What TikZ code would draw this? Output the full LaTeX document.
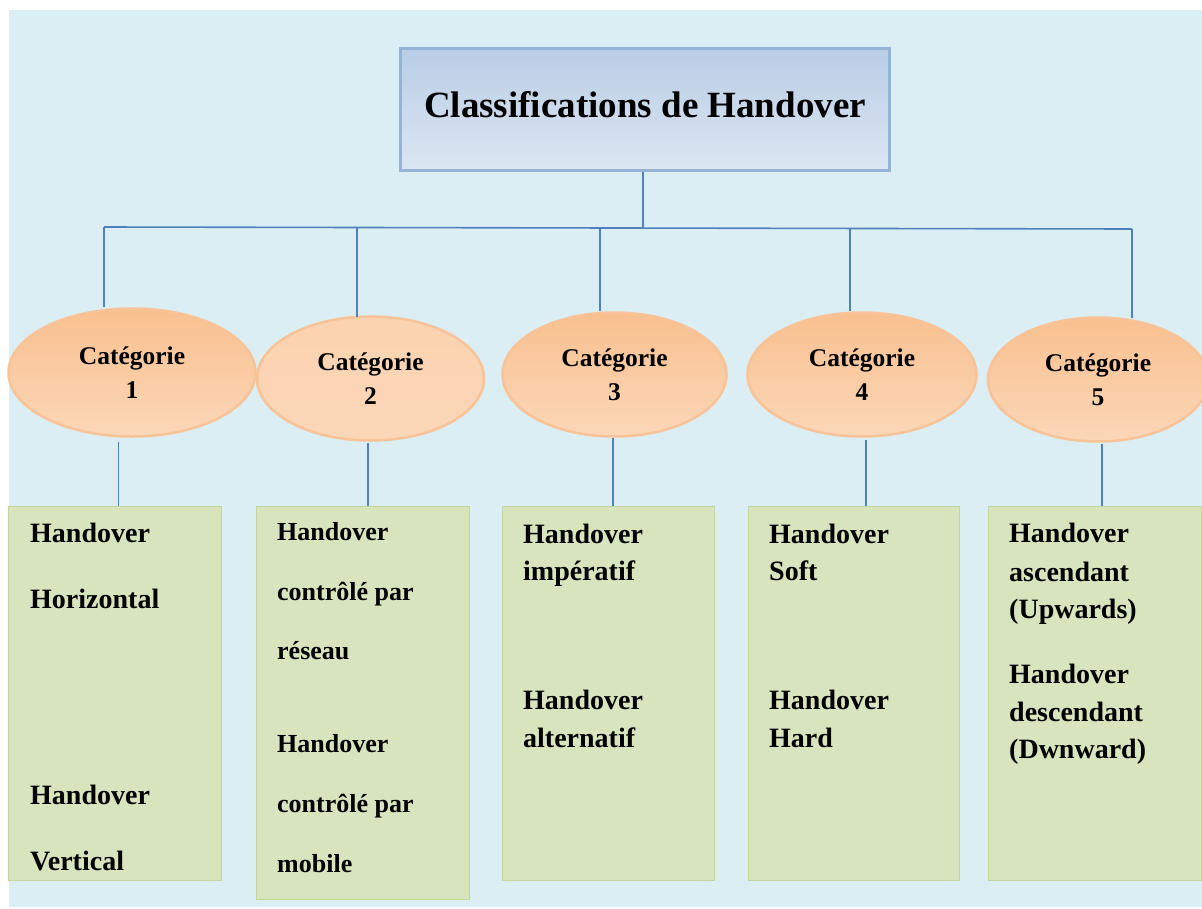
\documentclass[tikz,border=0pt]{standalone}
\usepackage{fontspec}
\setmainfont{Liberation Serif}
\usetikzlibrary{shapes.geometric,calc}
\definecolor{bgblue}{HTML}{DAEEF3}
\definecolor{linkblue}{HTML}{4F81BD}
\definecolor{boxedge}{HTML}{95B3D7}
\definecolor{boxtop}{HTML}{B9CDE5}
\definecolor{boxbot}{HTML}{DCE6F2}
\definecolor{ovtop}{HTML}{F9C08F}
\definecolor{ovmid}{HTML}{F8BD8B}
\definecolor{ovbot}{HTML}{FBD7B8}
\definecolor{ovedge}{HTML}{F9C297}
\definecolor{recfill}{HTML}{D7E4BD}
\definecolor{recedge}{HTML}{C3D69B}
\tikzset{
  conn/.style={draw=linkblue, line width=1.6pt},
  topbox/.style={draw=boxedge, line width=3pt, top color=boxtop, bottom color=boxbot,
    inner sep=0pt, text depth=10pt, font=\fontsize{37}{37}\selectfont\bfseries},
  cat/.style={ellipse, draw=ovedge, line width=2.5pt, top color=ovtop, bottom color=ovbot,
    inner sep=0pt, align=center, font=\fontsize{25.5}{34}\selectfont\bfseries},
  catband/.style={ellipse, draw=ovedge, line width=2.5pt, top color=ovbot!80!ovtop, middle color=ovmid, bottom color=ovbot,
    inner sep=0pt, align=center, font=\fontsize{25.5}{34}\selectfont\bfseries},
  rec/.style={draw=recedge, line width=1pt, fill=recfill, anchor=north west, inner sep=0pt},
  txt/.style={anchor=base west, inner sep=0pt, font=\fontsize{28}{28}\selectfont\bfseries},
  txts/.style={anchor=base west, inner sep=0pt, font=\fontsize{26}{26}\selectfont\bfseries},
}
\begin{document}
\begin{tikzpicture}[x=1pt,y=-1pt]
\useasboundingbox (0,0) rectangle (1202,908);
\fill[white] (0,0) rectangle (1202,908);
\fill[bgblue] (9,10) rectangle (1202,907);

% top box
\node[topbox, minimum width=489pt, minimum height=122pt] (top) at (645,109.5) {Classifications de Handover};

% categories
\node[cat, minimum width=247pt, minimum height=128pt] (e1) at (132,372.5) {Catégorie\\1};
\node[catband, minimum width=227pt, minimum height=124pt] (e2) at (370.5,378.5) {Catégorie\\2};
\node[cat, minimum width=224pt, minimum height=124pt] (e3) at (614.5,374.5) {Catégorie\\3};
\node[cat, minimum width=229pt, minimum height=124pt] (e4) at (862,374.5) {Catégorie\\4};
\node[cat, minimum width=220pt, minimum height=124pt] (e5) at (1098,379.5) {Catégorie\\5};

% boxes
\node[rec, minimum width=213pt, minimum height=374pt] (r1) at (8,506) {};
\node[rec, minimum width=213pt, minimum height=393pt] (r2) at (256,506) {};
\node[rec, minimum width=212pt, minimum height=374pt] (r3) at (502,506) {};
\node[rec, minimum width=211pt, minimum height=374pt] (r4) at (748,506) {};
\node[rec, minimum width=213pt, minimum height=374pt] (r5) at (988,506) {};

% connectors
\coordinate (bT) at (643,228);
\coordinate (bL) at (104,227);
\coordinate (b2) at (357,227.5);
\coordinate (b3) at (600,228);
\coordinate (b4) at (850,228.5);
\coordinate (bR) at (1132,229);
\draw[conn] (top.south -| bT) -- (bT);
\draw[conn] (bL) -- (bR);
\draw[conn] (bL) -- (bL |- e1.north);
\draw[conn] (b2) -- ([yshift=-2pt]b2 |- e2.north);
\draw[conn] (b3) -- (b3 |- e3.north);
\draw[conn] (b4) -- (b4 |- e4.north);
\draw[conn] (bR) -- ([yshift=-2pt]bR |- e5.north);
\draw[conn] ([xshift=-13.5pt,yshift=-4pt]e1.south) -- ([xshift=-13.5pt]e1.south |- r1.north);
\draw[conn] ([xshift=-2.5pt,yshift=-1pt]e2.south) -- ([xshift=-2.5pt]e2.south |- r2.north);
\draw[conn] ([xshift=-1.5pt]e3.south) -- ([xshift=-1.5pt]e3.south |- r3.north);
\draw[conn] ([xshift=4pt,yshift=-2pt]e4.south) -- ([xshift=4pt]e4.south |- r4.north);
\draw[conn] ([xshift=4pt,yshift=-1pt]e5.south) -- ([xshift=4pt]e5.south |- r5.north);

% texts box 1
\node[txt] (t1a) at (30,542) {Handover};
\node[txt] (t1b) at (30,608) {Horizontal};
\node[txt] (t1c) at (30,804) {Handover};
\node[txt] (t1d) at (30,870) {Vertical};
% box 2
\node[txts] (t2a) at (277,540) {Handover};
\node[txts] (t2b) at (277,600) {contrôlé par};
\node[txts] (t2c) at (277,659) {réseau};
\node[txts] (t2d) at (277,752) {Handover};
\node[txts] (t2e) at (277,812) {contrôlé par};
\node[txts] (t2f) at (277,872) {mobile};
% box 3
\node[txt] (t3a) at (523,543) {Handover};
\node[txt] (t3b) at (523,580) {impératif};
\node[txt] (t3c) at (523,709) {Handover};
\node[txt] (t3d) at (523,747) {alternatif};
% box 4
\node[txt] (t4a) at (769,543) {Handover};
\node[txt] (t4b) at (769,580) {Soft};
\node[txt] (t4c) at (769,709) {Handover};
\node[txt] (t4d) at (769,747) {Hard};
% box 5
\node[txt] (t5a) at (1009,542) {Handover};
\node[txt] (t5b) at (1009,581) {ascendant};
\node[txt] (t5c) at (1009,618) {(Upwards)};
\node[txt] (t5d) at (1009,683) {Handover};
\node[txt] (t5e) at (1009,721) {descendant};
\node[txt] (t5f) at (1009,758) {(Dwnward)};
\end{tikzpicture}
\end{document}
